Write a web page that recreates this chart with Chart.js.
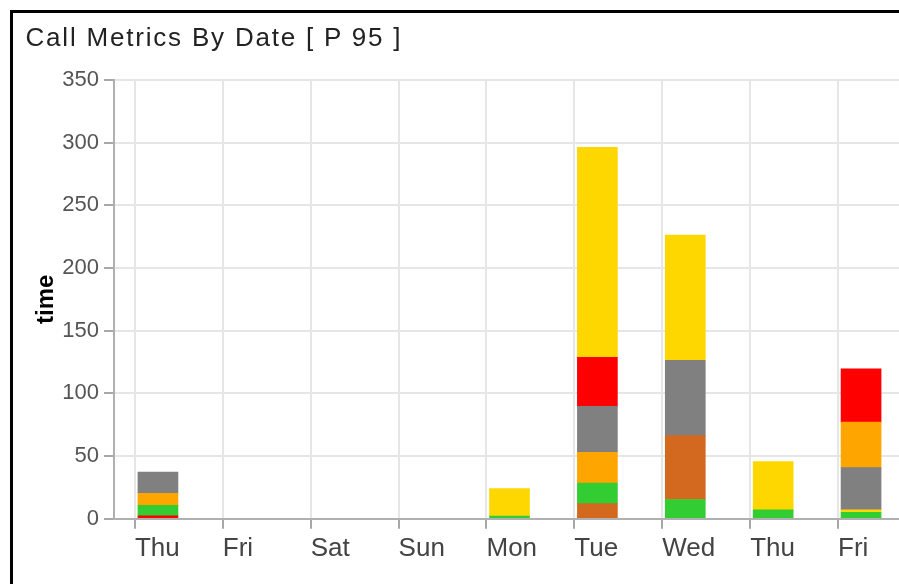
<!DOCTYPE html>
<html>
<head>
<meta charset="utf-8">
<script src="https://cdn.jsdelivr.net/npm/chart.js@4.4.1/dist/chart.umd.min.js"></script>
<style>
  html, body { margin: 0; padding: 0; background: #fff; overflow: hidden; width: 899px; height: 584px; }
  #frame { position: absolute; left: 10px; top: 10px; width: 900px; height: 580px;
           border-left: 3px solid #000; border-top: 3px solid #000; }
  #title { position: absolute; left: 12.5px; top: 10.5px; margin: 0; white-space: nowrap;
           font-family: 'Liberation Sans', Arial, sans-serif; font-size: 26px; font-weight: normal;
           line-height: 1; letter-spacing: 1.8px; color: #222; }
  #box { position: absolute; left: 0; top: 0; width: 900px; height: 580px; }
</style>
</head>
<body>
<div id="frame">
  <div id="box"><canvas id="grafico"></canvas></div>
  <h1 id="title">Call Metrics By Date [ P 95 ]</h1>
</div>
<script>
// dias no eixo x
var days = ['Thu', 'Fri', 'Sat', 'Sun', 'Mon', 'Tue', 'Wed', 'Thu', 'Fri'];

// tempo P95 de cada grupo (cor) por dia
var redTimes    = [2.2, 0, 0, 0, 0, 39.1, 0, 0, 42.5];
var greenTimes  = [8.5, 0, 0, 0, 2, 16.5, 15.3, 7, 5];
var orangeTimes = [9.6, 0, 0, 0, 0, 24.5, 0, 0, 36.2];
var grayTimes   = [16.8, 0, 0, 0, 0, 36.7, 60, 0, 33.8];
var goldTimes   = [0, 0, 0, 0, 22, 167.5, 100, 38.6, 2];
var brownTimes  = [0, 0, 0, 0, 0, 12, 51, 0, 0];

// ordem dos segmentos em cada barra, de baixo para cima
var stackOrder = [
  ['red', 'green', 'orange', 'gray'],
  [], [], [],
  ['green', 'gold'],
  ['brown', 'green', 'orange', 'gray', 'red', 'gold'],
  ['green', 'brown', 'gray', 'gold'],
  ['green', 'gold'],
  ['green', 'gold', 'gray', 'orange', 'red']
];

var yMax = 350;
var yStep = 50;

var series = { red: redTimes, green: greenTimes, orange: orangeTimes, gray: grayTimes, gold: goldTimes, brown: brownTimes };
var colors = { red: '#ff0000', green: '#32cd32', orange: '#ffa500', gray: '#808080', gold: '#ffd700', brown: '#d2691e' };

// cada "camada" da pilha vira um dataset, com a cor de cada barra
var datasets = [];
for (var i = 0; i < 6; i++) {
  datasets.push({
    label: 'camada ' + i,
    data: stackOrder.map(function (o, d) { return o[i] ? series[o[i]][d] : null; }),
    backgroundColor: stackOrder.map(function (o) { return o[i] ? colors[o[i]] : 'rgba(0,0,0,0)'; }),
    borderWidth: 0,
    barThickness: 40,
    xAxisID: 'x',
    yAxisID: 'y'
  });
}

Chart.defaults.font.family = "'Liberation Sans', Arial, sans-serif";

var ctx = document.getElementById('grafico');
var grafico = new Chart(ctx, {
  type: 'bar',
  data: { labels: days, datasets: datasets },
  options: {
    animation: false,
    responsive: true,
    maintainAspectRatio: false,
    layout: { padding: { left: 13, right: 8, top: 67, bottom: 24.3 } },
    plugins: { legend: { display: false }, title: { display: false }, tooltip: { enabled: true } },
    scales: {
      x: { type: 'category', stacked: true, display: false, offset: true },
      // eixo so para as linhas de grade e os rotulos (ficam no inicio de cada dia)
      xg: {
        type: 'linear',
        position: 'bottom',
        offset: false,
        min: -0.238,
        max: 8.762,
        afterBuildTicks: function (axis) { axis.ticks = days.map(function (d, k) { return { value: k }; }); },
        afterFit: function (axis) { axis.height = 50; },
        grid: { offset: false, color: '#e6e6e6', lineWidth: 2, tickColor: '#a8a8a8', tickWidth: 2, tickLength: 10 },
        border: { color: '#b0b0b0', width: 2 },
        ticks: {
          align: 'start', padding: 5, maxRotation: 0, autoSkip: false, color: '#444',
          font: { size: 26 },
          callback: function (v) { return days[v]; }
        }
      },
      y: {
        stacked: true,
        min: 0,
        max: yMax,
        afterFit: function (axis) { axis.width = 88; },
        grid: { color: '#e6e6e6', lineWidth: 2, tickColor: '#a8a8a8', tickWidth: 2, tickLength: 10 },
        border: { color: '#b0b0b0', width: 2 },
        ticks: { stepSize: yStep, padding: 5, color: '#555', font: { size: 22 } },
        title: { display: true, text: 'time', color: '#000', font: { size: 24, weight: 'bold' }, padding: { top: 6, bottom: 0 } }
      }
    }
  }
});
</script>
</body>
</html>
